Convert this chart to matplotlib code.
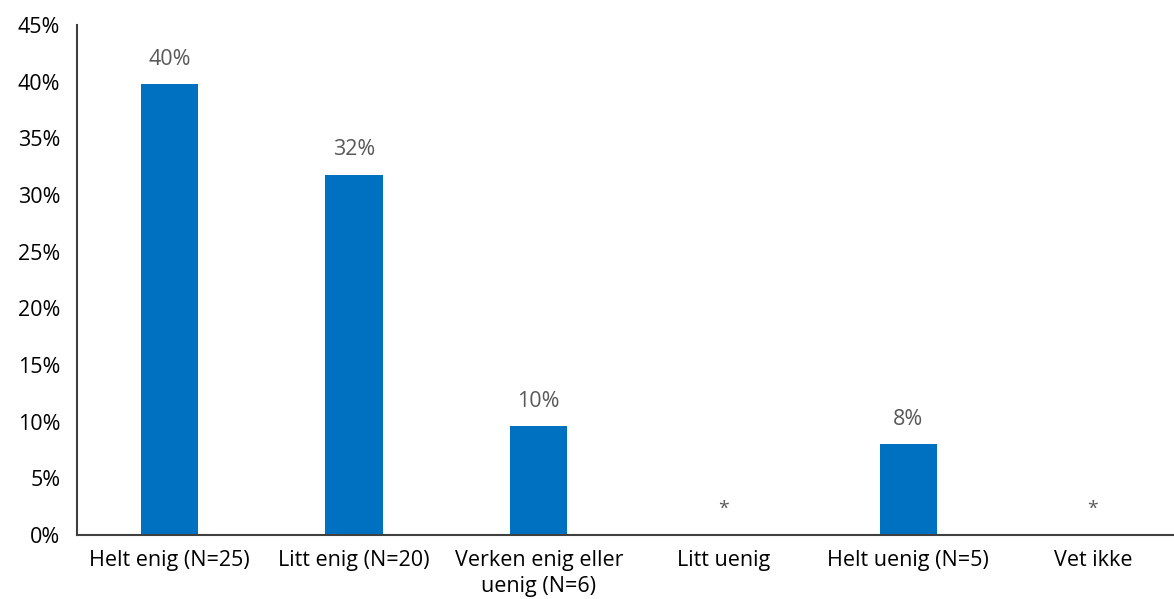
import matplotlib.pyplot as plt
import numpy as np

plt.rcParams["font.family"] = ["Open Sans", "DejaVu Sans"]

categories = ["Helt enig (N=25)", "Litt enig (N=20)", "Verken enig eller\nuenig (N=6)",
              "Litt uenig", "Helt uenig (N=5)", "Vet ikke"]
values = [39.8, 31.8, 9.6, 0, 8.0, 0]
labels = ["40%", "32%", "10%", "*", "8%", "*"]

fig = plt.figure(figsize=(11.74, 5.99), dpi=100)
ax = fig.add_axes([0.0656, 0.1068, 0.944, 0.8512])

x = np.arange(len(categories))
bars = ax.bar(x, values, width=0.31, color="#0070C0")

for xi, v, lab in zip(x, values, labels):
    if lab == "*":
        ax.annotate(lab, (xi, v), xytext=(0, 19), textcoords="offset points",
                    ha="center", va="center", fontsize=14, color="#595959")
    else:
        ax.annotate(lab, (xi, v), xytext=(0, 18), textcoords="offset points",
                    ha="center", va="center", fontsize=15.5, color="#595959")

ax.set_xlim(-0.5, len(categories) - 0.5)
ax.set_ylim(0, 45)
ax.set_yticks(np.arange(0, 46, 5))
ax.set_yticklabels([f"{t}%" for t in range(0, 46, 5)])
ax.set_xticks(x)
ax.set_xticklabels(categories, linespacing=1.3)
ax.tick_params(axis="both", length=0, labelsize=15.5, colors="black")
ax.tick_params(axis="x", pad=11)
ax.tick_params(axis="y", pad=12)

for s in ["top", "right"]:
    ax.spines[s].set_visible(False)
for s in ["left", "bottom"]:
    ax.spines[s].set_color("#404040")
    ax.spines[s].set_linewidth(1.5)

fig.savefig("out.png", dpi=100)
